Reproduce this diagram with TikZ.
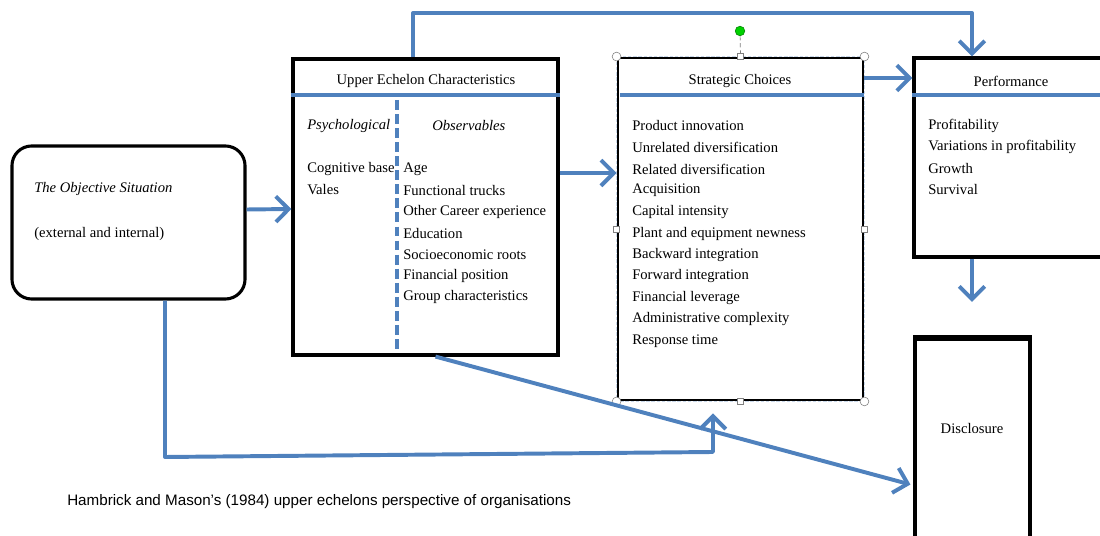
\documentclass[tikz,border=0pt]{standalone}
\usepackage{fontspec}
\setmainfont{Liberation Serif}
\newfontfamily\capfont{Liberation Sans}
\usetikzlibrary{arrows.meta,calc,positioning}
\definecolor{officeblue}{RGB}{79,129,189}
\tikzset{
  box/.style={draw=black, line width=2.2pt, inner sep=0pt},
  link/.style={draw=officeblue, line width=2.8pt, line join=round,
    -{Straight Barb[length=3.2mm,width=6.4mm]}},
  rule/.style={draw=officeblue, line width=2.4pt},
  item/.style={anchor=west, inner sep=0pt, font=\fontsize{10.4}{12}\selectfont},
  head/.style={inner sep=0pt, font=\fontsize{10.4}{12}\selectfont},
  handle/.style={circle, draw=gray, fill=white, line width=0.4pt, inner sep=0pt, minimum size=2.2mm},
  grip/.style={rectangle, draw=gray, fill=white, line width=0.4pt, inner sep=0pt, minimum size=1.5mm}
}
\begin{document}
\begin{tikzpicture}[x=0.025cm,y=-0.025cm]
\useasboundingbox (0,0) rectangle (1100,536);
\clip (0,0) rectangle (1100,536);
% boxes
\node[box, rounded corners=14pt, minimum width=5.825cm, minimum height=3.825cm] (obj) at (128.5,222.5) {};
\node[box, minimum width=6.625cm, minimum height=7.4cm] (ue) at (425.5,207) {};
\node[draw=black, line width=2pt, inner sep=0pt, minimum width=6.125cm, minimum height=8.55cm] (sc) at (740.5,229) {};
\draw[white!70!officeblue, line width=0.4pt, dash pattern=on 2.5pt off 1.2pt] (sc.north west) rectangle (sc.south east);
\node[box, minimum width=5.65cm, minimum height=4.975cm] (perf) at (1027,157.5) {};
\node[box, minimum width=2.875cm, minimum height=5.525cm] (disc) at (972.5,449.5) {};
\draw[line width=3.5pt] (disc.north west) -- (disc.north east);
% situation
\node[item, font=\fontsize{10.4}{12}\selectfont\itshape] (objt) at (34,189) {The Objective Situation};
\node[item] (objs) at (34,234) {(external and internal)};
% upper echelon
\node[head] (uehead) at (426,81) {Upper Echelon Characteristics};
\draw[rule] (ue.west |- 0,95) -- (ue.east |- 0,95);
\draw[officeblue, line width=2.2pt, dash pattern=on 7pt off 3pt] (397,100) -- (397,353);
\node[item, font=\fontsize{10.4}{12}\selectfont\itshape] (psy) at (307,126) {Psychological};
\node[item, font=\fontsize{10.4}{12}\selectfont\itshape] (obsv) at (432,126) {Observables};
\node[item] (cog) at (307,169) {Cognitive base};
\node[item] (vales) at (307,190) {Vales};
\foreach \t [count=\i from 0] in {Age, Functional trucks, Other Career experience,
  Education, Socioeconomic roots, Financial position, Group characteristics}
  \node[item] (obs\i) at (403,169+21.35*\i) {\t};
% strategic choices
\node[head] (schead) at (740,81) {Strategic Choices};
\draw[rule] (620,95) -- (sc.east |- 0,95);
\foreach \t [count=\i from 0] in {Product innovation, Unrelated diversification,
  Related diversification, Acquisition, Capital intensity, Plant and equipment newness,
  Backward integration, Forward integration, Financial leverage,
  Administrative complexity, Response time}
  \node[item] (sc\i) at (632,126+21.5*\i) {\t};
% performance
\node[head] (perfhead) at (1011,81) {Performance};
\draw[rule] (perf.west |- 0,95) -- (1100,95);
\foreach \t [count=\i from 0] in {Profitability, Variations in profitability, Growth, Survival}
  \node[item] (pf\i) at (928,126+21.3*\i) {\t};
% disclosure
\node[head] (disct) at (972,429) {Disclosure};
% selection handles
\foreach \a in {north west, north east, south west, south east}
  \node[handle] (h-\a) at (sc.\a) {};
\foreach \a in {north, south, west, east}
  \node[grip] (g-\a) at (sc.\a) {};
\node[handle, draw=green!50!black, fill=green!70!black!60!green, minimum size=2.4mm] (rot) at (740,31) {};
\draw[gray, line width=0.5pt, densely dashed] (rot) -- (g-north);
% connectors
\coordinate (top1) at (413,13);
\coordinate (top2) at (972,13);
\coordinate (low1) at (165,457);
\coordinate (low2) at (713,452);
\draw[link] ($(obj.east)+(0,-13)$) -- ($(ue.west)+(0,2)$);
\draw[link] (ue.east |- 0,173) -- (sc.west |- 0,173);
\draw[link] (sc.east |- 0,78) -- (perf.west |- 0,78);
\draw[link] (top1 |- ue.north) -- (top1) -- (top2) -- (top2 |- perf.north);
\draw[link, shorten >=9\pgflinewidth] (top2 |- perf.south) -- (top2 |- disc.north);
\draw[link] (low1 |- obj.south) -- (low1) -- (low2) -- ($(low2 |- sc.south)+(0,12)$);
\draw[link] ($(ue.south)+(10,0)$) -- ($(disc.west)+(-3,35)$);
% caption
\node[anchor=west, inner sep=0pt, font=\capfont\fontsize{10.8}{13}\selectfont] (cap) at (67,502)
  {Hambrick and Mason’s (1984) upper echelons perspective of organisations};
\end{tikzpicture}
\end{document}
